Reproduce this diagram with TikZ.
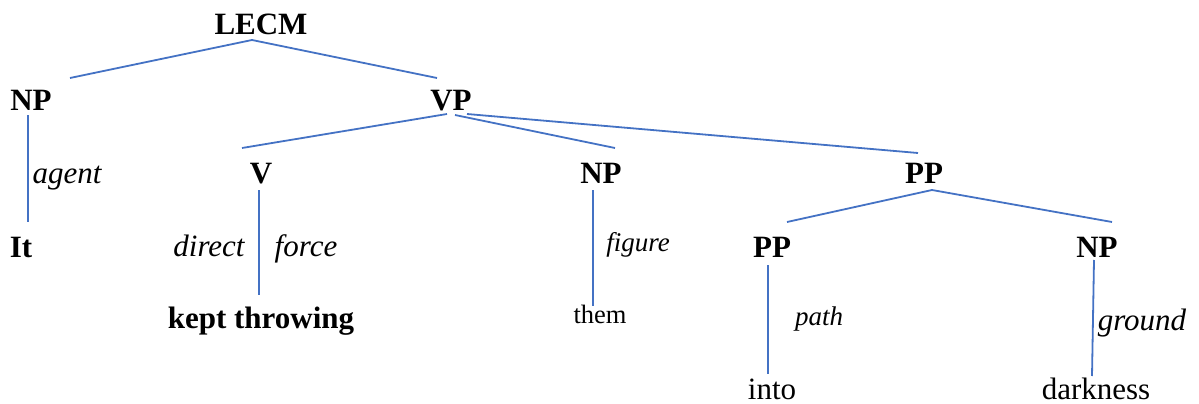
\documentclass[tikz,border=0pt]{standalone}
\usepackage{fontspec}
\setmainfont{Liberation Serif}
\definecolor{edgeblue}{RGB}{68,114,196}
\tikzset{
  lbl/.style={anchor=base, inner sep=0pt, font=\fontsize{31}{36}\selectfont\bfseries},
  word/.style={anchor=base, inner sep=0pt, font=\fontsize{31}{36}\selectfont},
  smallword/.style={anchor=base, inner sep=0pt, font=\fontsize{26.5}{32}\selectfont},
  role/.style={anchor=base, inner sep=0pt, font=\fontsize{31}{36}\selectfont\itshape},
  smallrole/.style={anchor=base, inner sep=0pt, font=\fontsize{27}{32}\selectfont\itshape},
  branch/.style={draw=edgeblue, line width=1.8pt}
}
\begin{document}
\begin{tikzpicture}[x=1pt,y=-1pt]
\useasboundingbox (0,0) rectangle (1199,404);
% category nodes
\node[lbl] (LECM) at (261,35) {LECM};
\node[lbl] (NP1) at (31,110) {NP};
\node[lbl] (VP) at (451,110) {VP};
\node[lbl] (V) at (261,183) {V};
\node[lbl] (NP2) at (601,183) {NP};
\node[lbl] (PP1) at (924,183) {PP};
\node[lbl] (PP2) at (772,257) {PP};
\node[lbl] (NP3) at (1097,257) {NP};
% leaves
\node[lbl] (It) at (21,257) {It};
\node[lbl] (kept) at (261,328) {kept throwing};
\node[smallword] (them) at (600,323) {them};
\node[word] (into) at (772,399) {into};
\node[word] (dark) at (1096,399) {darkness};
% role labels
\node[role] (agent) at (67,183) {agent};
\node[role] (direct) at (209,256) {direct};
\node[role] (force) at (306,256) {force};
\node[smallrole] (figure) at (638,251) {figure};
\node[smallrole] (path) at (819,325) {path};
\node[role] (ground) at (1142,330) {ground};
% branches
\draw[branch] ([shift={(-9,5)}]LECM.base) -- ([shift={(39,-32)}]NP1.base);
\draw[branch] ([shift={(-9,5)}]LECM.base) -- ([shift={(-14,-32)}]VP.base);
\draw[branch] ([shift={(-3,5)}]NP1.base) -- ([shift={(7,-35)}]It.base);
\draw[branch] ([shift={(-4,4)}]VP.base) -- ([shift={(-19,-35)}]V.base);
\draw[branch] ([shift={(4,5)}]VP.base) -- ([shift={(14,-35)}]NP2.base);
\draw[branch] ([shift={(16,4)}]VP.base) -- ([shift={(-6,-30)}]PP1.base);
\draw[branch] ([shift={(-2,7)}]V.base) -- ([shift={(-2,-33)}]kept.base);
\draw[branch] ([shift={(-8,7)}]NP2.base) -- ([shift={(-7,-17)}]them.base);
\draw[branch] ([shift={(8,7)}]PP1.base) -- ([shift={(15,-35)}]PP2.base);
\draw[branch] ([shift={(8,7)}]PP1.base) -- ([shift={(15,-35)}]NP3.base);
\draw[branch] ([shift={(-4,8)}]PP2.base) -- ([shift={(-4,-25)}]into.base);
\draw[branch] ([shift={(-3,3)}]NP3.base) -- ([shift={(-4,-23)}]dark.base);
\end{tikzpicture}
\end{document}
